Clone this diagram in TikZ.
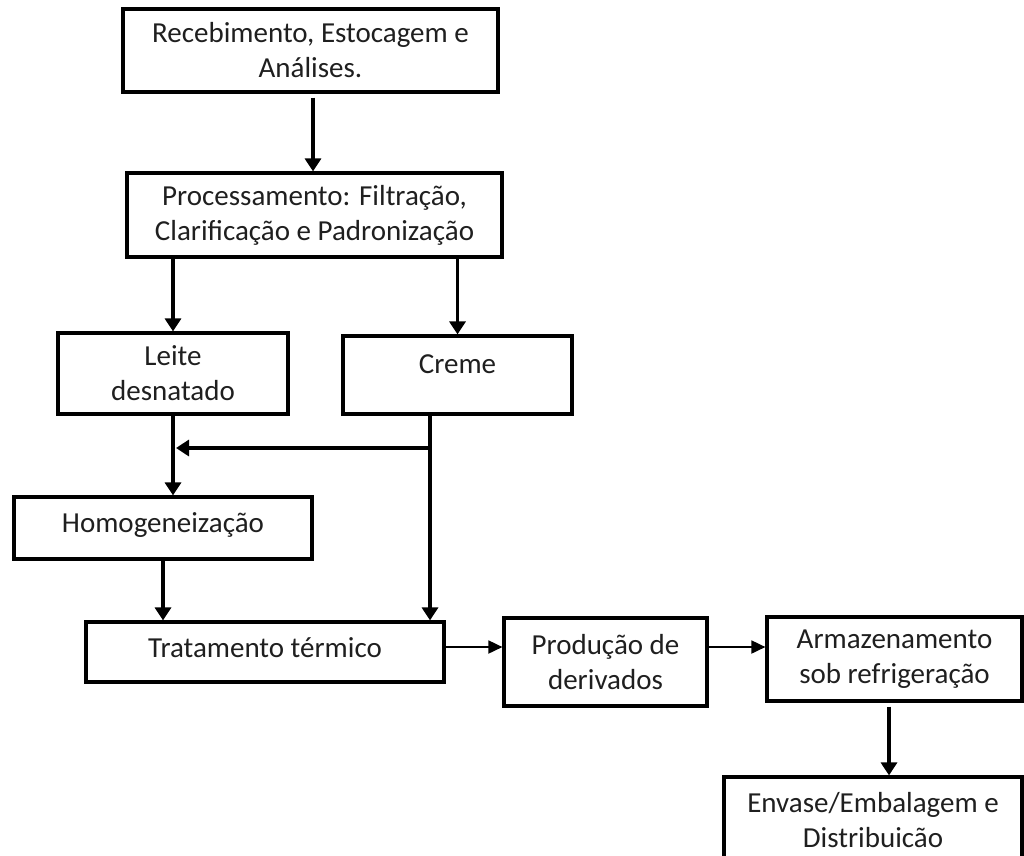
\documentclass[tikz,border=0pt]{standalone}
\usepackage{fontspec}
\setmainfont{Carlito}
\usetikzlibrary{arrows.meta}
\begin{document}
\begin{tikzpicture}[x=1pt,y=-1pt,
  box/.style={draw=black,line width=3.2pt,inner sep=0pt,align=center,
    text=black!88,font=\fontsize{29}{35}\selectfont},
  arr/.style={line width=3.2pt,-{Triangle[width=16pt,length=13pt]}},
  thinarr/.style={line width=1.8pt,-{Triangle[width=13pt,length=14pt]}},
  wire/.style={line width=3.2pt}]
\clip (0,0) rectangle (1024,855);
\node[box,minimum width=375pt,minimum height=83pt] (b1) at (310.5,50.5) {Recebimento, Estocagem e\\Análises.};
\node[box,minimum width=375pt,minimum height=84pt] (b2) at (314.5,215) {Processamento: Filtração,\\Clarificação e Padronização};
\node[box,minimum width=230pt,minimum height=81pt] (leite) at (173,373.5) {Leite\\desnatado};
\node[box,minimum width=229pt,minimum height=78pt] (creme) at (457.5,375) {\raisebox{21pt}{Creme}};
\node[box,minimum width=298pt,minimum height=62pt] (homog) at (163,528) {\raisebox{10pt}{Homogeneização}};
\node[box,minimum width=358pt,minimum height=60pt] (trat) at (265,652) {\raisebox{8pt}{Tratamento térmico}};
\node[box,minimum width=203pt,minimum height=88pt] (prod) at (605.5,662) {Produção de\\derivados};
\node[box,minimum width=255pt,minimum height=84pt] (arm) at (894.5,659) {Armazenamento\\sob refrigeração};
\node[box,minimum width=298pt,minimum height=86pt] (env) at (873,820) {Envase/Embalagem e\\Distribuicão};
\coordinate (j) at (430,448);
% connectors
\draw[arr,shorten <=4pt] ([xshift=2.5pt]b1.south) -- ([xshift=2.5pt]b1.south |- b2.north);
\draw[arr] (b2.south -| leite.north) -- (leite.north);
\draw[arr] (b2.south -| creme.north) -- (creme.north);
\draw[wire] (creme.south -| j) -- (j);
\draw[arr] (j) -- ([xshift=3pt]leite.south |- j);
\draw[arr] (j) -- (j |- trat.north);
\draw[arr] (leite.south) -- (leite.south |- homog.north);
\draw[arr] (homog.south) -- (homog.south |- trat.north);
\draw[thinarr] ([yshift=5pt]trat.east) -- ([yshift=5pt]trat.east -| prod.west);
\draw[thinarr] ([yshift=15pt]prod.east) -- ([yshift=15pt]prod.east -| arm.west);
\draw[arr,shorten <=4pt] ([xshift=-5.5pt]arm.south) -- ([xshift=-5.5pt]arm.south |- env.north);
\end{tikzpicture}
\end{document}
